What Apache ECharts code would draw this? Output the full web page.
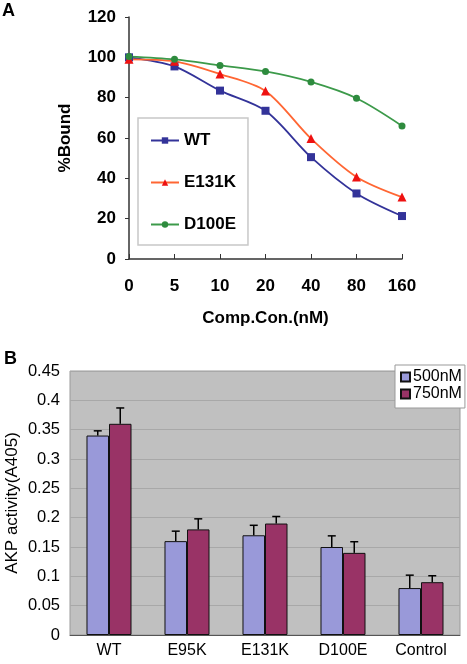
<!DOCTYPE html>
<html><head><meta charset="utf-8">
<script src="https://cdn.jsdelivr.net/npm/echarts@6/dist/echarts.min.js"></script>
<style>html,body{margin:0;padding:0;background:#fff}#c{width:467px;height:664px}</style>
</head><body><div id="c"></div>
<script>
// Panel A data
const concCategories = ['0', '5', '10', '20', '40', '80', '160'];
const wtBound = [100, 95.5, 83.5, 73.5, 50.5, 32.5, 21.3];
const e131kBound = [99, 98, 91.7, 83.3, 59.7, 40.7, 30.7];
const d100eBound = [100.4, 99, 96, 93, 87.8, 79.7, 66];
const boundTicks = { min: 0, max: 120, interval: 20 };

// Panel B data
const groupCategories = ['WT', 'E95K', 'E131K', 'D100E', 'Control'];
const akp500 = [0.34, 0.16, 0.17, 0.15, 0.08];
const akp750 = [0.36, 0.18, 0.19, 0.14, 0.09];
const err500 = [0.008, 0.017, 0.017, 0.019, 0.022];
const err750 = [0.027, 0.018, 0.012, 0.019, 0.011];
const akpTicks = { min: 0, max: 0.45, interval: 0.05 };

const FONT = '"Liberation Sans", Arial, sans-serif';
const chart = echarts.init(document.getElementById('c'), null, { renderer: 'canvas' });

const barFrac = 0.577; // fraction of category width used by the bar pair
function errRender(seriesIdx) {
  return function (params, api) {
    const cat = api.value(0), val = api.value(1), err = api.value(2);
    const center = api.coord([cat, 0])[0];
    const catW = api.size([1, 0])[0];
    const bw = catW * barFrac / 2;
    const x = seriesIdx === 0 ? center - bw / 2 : center + bw / 2;
    const yBase = api.coord([cat, val])[1];
    const yTop = api.coord([cat, val + err])[1];
    const st = { stroke: '#000', lineWidth: 1.5 };
    return {
      type: 'group', children: [
        { type: 'line', shape: { x1: x, y1: yBase, x2: x, y2: yTop }, style: st },
        { type: 'line', shape: { x1: x - 4, y1: yTop, x2: x + 4, y2: yTop }, style: st }
      ]
    };
  };
}

const option = {
  animation: false,
  backgroundColor: '#fff',
  textStyle: { fontFamily: FONT },
  graphic: [
    { type: 'text', left: 2, top: 2, style: { text: 'A', font: 'bold 18px ' + FONT, fill: '#000' } },
    { type: 'text', left: 4, top: 350, style: { text: 'B', font: 'bold 18px ' + FONT, fill: '#000' } }
  ],
  grid: [
    { left: 129, top: 17, width: 273, height: 242, outerBoundsMode: 'none', containLabel: false },
    { left: 70, top: 371, width: 390, height: 264, outerBoundsMode: 'none', containLabel: false,
      show: true, backgroundColor: '#c0c0c0', borderColor: '#9a9a9a', borderWidth: 1 }
  ],
  legend: [
    {
      data: ['WT', 'E131K', 'D100E'],
      left: 138, top: 118, orient: 'vertical',
      padding: [14, 12, 12, 12],
      itemWidth: 28, itemHeight: 8, itemGap: 25,
      backgroundColor: '#fff', borderColor: '#c8c8c8', borderWidth: 1.5,
      textStyle: { fontFamily: FONT, fontWeight: 'bold', fontSize: 17, color: '#000' }
    },
    {
      data: ['500nM', '750nM'],
      left: 395, top: 365, orient: 'vertical',
      padding: [4, 3, 6, 5],
      itemWidth: 9, itemHeight: 9, itemGap: 1,
      icon: 'rect',
      backgroundColor: '#fff', borderColor: '#999', borderWidth: 1,
      textStyle: { fontFamily: FONT, fontSize: 16, color: '#000', padding: [0, 0, 0, -2] }
    }
  ],
  xAxis: [
    {
      gridIndex: 0, type: 'category', data: concCategories, boundaryGap: false,
      axisLine: { lineStyle: { color: '#333', width: 1.5 } },
      axisTick: { inside: true, length: 5, lineStyle: { color: '#333' } },
      axisLabel: { fontFamily: FONT, fontWeight: 'bold', fontSize: 17, color: '#000', margin: 19 },
      name: 'Comp.Con.(nM)', nameLocation: 'middle', nameGap: 51, nameMoveOverlap: false,
      nameTextStyle: { fontFamily: FONT, fontWeight: 'bold', fontSize: 17, color: '#000' }
    },
    {
      gridIndex: 1, type: 'category', data: groupCategories,
      axisLine: { lineStyle: { color: '#555', width: 1 } },
      axisTick: { inside: true, length: 4, lineStyle: { color: '#777' } },
      axisLabel: { fontFamily: FONT, fontSize: 16, color: '#000', margin: 8 }
    }
  ],
  yAxis: [
    {
      gridIndex: 0, type: 'value', min: boundTicks.min, max: boundTicks.max, interval: boundTicks.interval,
      axisLine: { show: true, lineStyle: { color: '#333', width: 1.5 } },
      axisTick: { show: true, length: 4, lineStyle: { color: '#333' } },
      splitLine: { show: false },
      axisLabel: { fontFamily: FONT, fontWeight: 'bold', fontSize: 17, color: '#000', margin: 13 },
      name: '%Bound', nameLocation: 'middle', nameGap: 55, nameMoveOverlap: false,
      nameTextStyle: { fontFamily: FONT, fontWeight: 'bold', fontSize: 17, color: '#000' }
    },
    {
      gridIndex: 1, type: 'value', min: akpTicks.min, max: akpTicks.max, interval: akpTicks.interval,
      axisLine: { show: false },
      axisTick: { show: false },
      splitLine: { show: true, lineStyle: { color: '#a8a8a8', width: 1 } },
      axisLabel: { fontFamily: FONT, fontSize: 16.5, color: '#000', margin: 10 },
      name: 'AKP activity(A405)', nameLocation: 'middle', nameGap: 49, nameMoveOverlap: false,
      nameTextStyle: { fontFamily: FONT, fontSize: 17, color: '#000' }
    }
  ],
  series: [
    {
      name: 'WT', type: 'line', xAxisIndex: 0, yAxisIndex: 0, data: wtBound, smooth: 0.3,
      symbol: 'rect', symbolSize: 8,
      lineStyle: { color: '#333399', width: 1.8 }, itemStyle: { color: '#333399' }
    },
    {
      name: 'E131K', type: 'line', xAxisIndex: 0, yAxisIndex: 0, data: e131kBound, smooth: 0.3,
      symbol: 'triangle', symbolSize: 9,
      lineStyle: { color: '#ff6633', width: 1.8 }, itemStyle: { color: '#ee1111' }
    },
    {
      name: 'D100E', type: 'line', xAxisIndex: 0, yAxisIndex: 0, data: d100eBound, smooth: 0.3,
      symbol: 'circle', symbolSize: 7,
      lineStyle: { color: '#3c9a4a', width: 1.8 }, itemStyle: { color: '#2e8b3e' }
    },
    {
      name: '500nM', type: 'bar', xAxisIndex: 1, yAxisIndex: 1, data: akp500,
      barGap: '0%', barCategoryGap: '42.3%',
      itemStyle: { color: '#9999d9', borderColor: '#111', borderWidth: 1 }
    },
    {
      name: '750nM', type: 'bar', xAxisIndex: 1, yAxisIndex: 1, data: akp750,
      barGap: '0%', barCategoryGap: '42.3%',
      itemStyle: { color: '#993366', borderColor: '#111', borderWidth: 1 }
    },
    {
      type: 'custom', xAxisIndex: 1, yAxisIndex: 1, z: 5,
      renderItem: errRender(0),
      data: akp500.map((v, i) => [i, v, err500[i]])
    },
    {
      type: 'custom', xAxisIndex: 1, yAxisIndex: 1, z: 5,
      renderItem: errRender(1),
      data: akp750.map((v, i) => [i, v, err750[i]])
    }
  ]
};
chart.setOption(option);
</script></body></html>
